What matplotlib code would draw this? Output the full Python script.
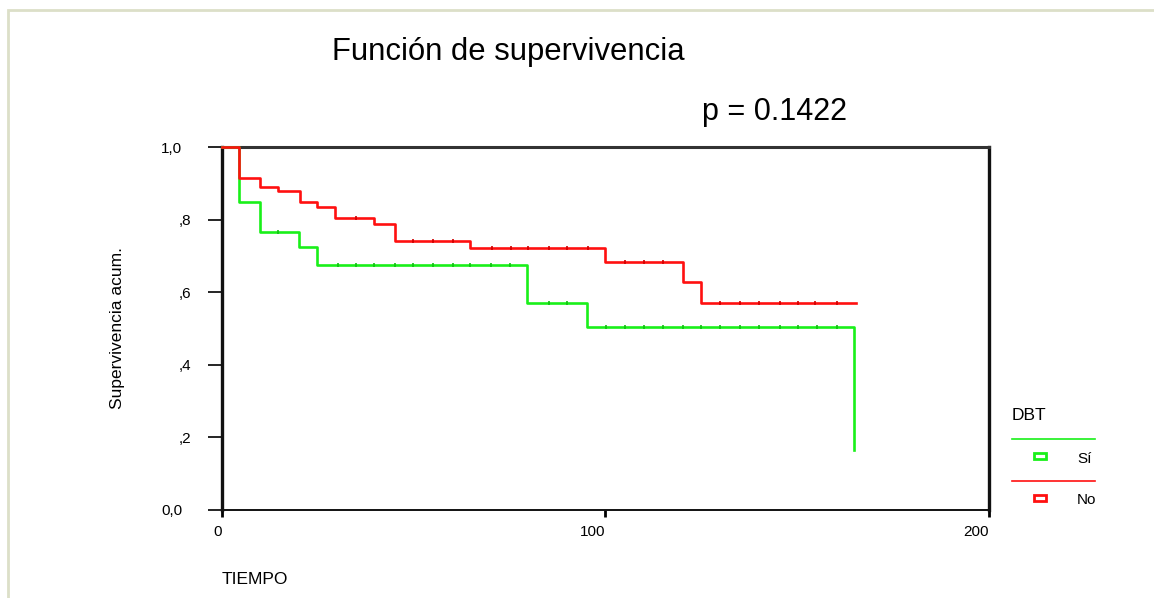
import numpy as np
import matplotlib
matplotlib.use("Agg")
import matplotlib.pyplot as plt
from matplotlib.lines import Line2D
from matplotlib.patches import Rectangle
from matplotlib.transforms import ScaledTranslation

plt.rcParams['font.family'] = ['Liberation Sans', 'DejaVu Sans']

# Kaplan-Meier curves
no_t = [0, 4.6, 10.1, 14.8, 20.4, 24.9, 29.6, 39.8, 45.3, 64.8, 99.9, 120.3, 125.0, 165.4]
no_s = [1.0, 0.916, 0.891, 0.878, 0.850, 0.835, 0.805, 0.789, 0.741, 0.721, 0.684, 0.628, 0.569, 0.569]
si_t = [0, 4.6, 10.1, 20.2, 24.9, 79.6, 95.2, 164.9]
si_s = [1.0, 0.849, 0.767, 0.724, 0.676, 0.569, 0.504, 0.163]

# censored times
no_cens = [35.0, 49.8, 55.0, 60.3, 70.5, 75.3, 79.8, 85.3, 90.1, 95.5, 105.1, 110.1,
           114.9, 129.9, 135.1, 140.0, 145.4, 150.2, 154.7, 160.4]
si_cens = [14.8, 30.2, 35.0, 39.8, 45.3, 49.8, 55.0, 60.3, 64.8, 70.3, 75.1, 85.3, 90.1,
           100.1, 105.1, 110.1, 114.9, 120.2, 125.0, 129.9, 135.1, 140.0, 145.4, 150.2,
           155.1, 160.4]

x_ticks = [0, 100, 200]
y_ticks = [0.0, 0.2, 0.4, 0.6, 0.8, 1.0]
y_labels = ["0,0", ",2", ",4", ",6", ",8", "1,0"]

W, H = 1154, 598
fig = plt.figure(figsize=(W / 100, H / 100), dpi=100)


def fx(px):
    return px / W


def fy(py):
    return 1 - py / H


ax = fig.add_axes([fx(221.7), fy(509.5), fx(989) - fx(221.7), fy(147.3) - fy(509.5)])


def step_val(times, surv, t):
    i = np.searchsorted(times, t, side='right') - 1
    return surv[i]


green = '#19f019'
red = '#ff1010'
ax.step(si_t, si_s, where='post', color=green, lw=1.9, zorder=3, clip_on=False)
ax.step(no_t, no_s, where='post', color=red, lw=1.9, zorder=4, clip_on=False)
ax.plot(si_cens, [step_val(si_t, si_s, t) for t in si_cens], ls='none', marker='|',
        ms=3, mew=1.2, color='#10c010', zorder=3)
ax.plot(no_cens, [step_val(no_t, no_s, t) for t in no_cens], ls='none', marker='|',
        ms=3, mew=1.2, color='#d00000', zorder=4)

ax.set_xlim(0, 200)
ax.set_ylim(0, 1.0)
ax.set_xticks(x_ticks)
ax.set_xticklabels([str(v) for v in x_ticks], ha='right')
ax.set_yticks(y_ticks)
ax.set_yticklabels(y_labels)
ax.tick_params(axis='y', direction='out', length=10, width=1.2, pad=12, labelsize=11)
ax.tick_params(axis='x', direction='out', length=5, width=2, pad=6, labelsize=11)
# SPSS puts the "x,0" labels a little further left
for lbl in ax.get_yticklabels():
    if lbl.get_text()[0].isdigit():
        lbl.set_transform(lbl.get_transform() + ScaledTranslation(-9 / 100, 0, fig.dpi_scale_trans))
for s in ax.spines.values():
    s.set_color('#111111')
ax.spines['left'].set_linewidth(2.4)
ax.spines['bottom'].set_linewidth(1.4)
ax.spines['top'].set_linewidth(2.2)
ax.spines['right'].set_linewidth(2.4)
ax.spines['top'].set_color('#333333')

ax.set_ylabel("Supervivencia acum.", fontsize=12.5, labelpad=26)
fig.text(fx(222), fy(580), "TIEMPO", fontsize=12.5, ha='left', va='center')

fig.text(fx(508), fy(52), "Función de supervivencia", fontsize=22.3, ha='center', va='center')
fig.text(fx(774), fy(112), "p = 0.1422", fontsize=22, ha='center', va='center')

# legend drawn SPSS-style
fig.text(fx(1012), fy(416), "DBT", fontsize=12.5, ha='left', va='center')
fig.add_artist(Line2D([fx(1012), fx(1095)], [fy(439), fy(439)], color=green, lw=1.2))
fig.add_artist(Rectangle((fx(1034), fy(458.5)), fx(12), 6 / H, fill=False, ec=green, lw=2))
fig.text(fx(1077), fy(459), "Sí", fontsize=11, ha='left', va='center')
fig.add_artist(Line2D([fx(1012), fx(1095)], [fy(481), fy(481)], color=red, lw=1.2))
fig.add_artist(Rectangle((fx(1034), fy(500.5)), fx(12), 6 / H, fill=False, ec=red, lw=2))
fig.text(fx(1077), fy(500), "No", fontsize=11, ha='left', va='center')

# outer frame
fig.add_artist(Rectangle((fx(8), -0.05), 1.1, fy(10) + 0.05, fill=False, ec='#dcdfc8', lw=2))

fig.savefig("out.png", dpi=100)
